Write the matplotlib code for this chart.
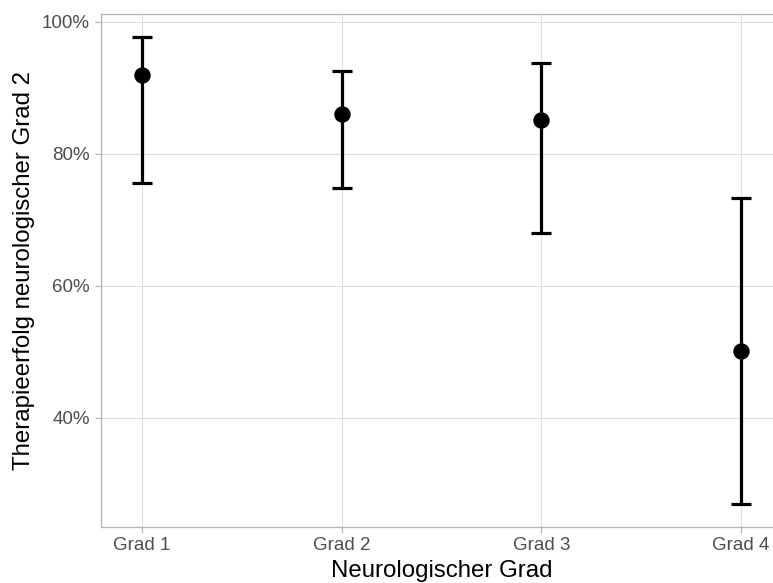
# ============================================================
# plot.py — Therapieerfolg nach neurologischem Grad
# ============================================================
# Point estimates with confidence intervals per grade,
# styled like a ggplot2 theme_light() panel.
# ============================================================

import matplotlib
matplotlib.use("Agg")
import matplotlib.pyplot as plt
from matplotlib.ticker import FuncFormatter

plt.rcParams["font.family"] = ["Liberation Sans", "DejaVu Sans"]

# ── Data (percent) ──────────────────────────────────────────
GRADES   = ["Grad 1", "Grad 2", "Grad 3", "Grad 4"]
ESTIMATE = [92.0, 86.0, 85.1, 50.1]
CI_LOW   = [75.6, 74.9, 68.0, 26.9]
CI_HIGH  = [97.7, 92.6, 93.8, 73.4]
Y_TICKS  = [40, 60, 80, 100]

# ── Styling ─────────────────────────────────────────────────
GRID_COLOR   = "#DEDEDE"
BORDER_COLOR = "#B3B3B3"
TICK_TEXT    = "#4D4D4D"

W, H = 773, 583
fig = plt.figure(figsize=(W / 100, H / 100), dpi=100)

# panel in pixel coordinates (right edge runs past the figure)
left, right, top, bottom = 101, 782, 14, 527
ax = fig.add_axes([left / W, (H - bottom) / H, (right - left) / W, (bottom - top) / H])

x = list(range(1, len(GRADES) + 1))
err_low  = [e - lo for e, lo in zip(ESTIMATE, CI_LOW)]
err_high = [hi - e for e, hi in zip(ESTIMATE, CI_HIGH)]

ax.errorbar(x, ESTIMATE, yerr=[err_low, err_high], fmt="o", color="black",
            ecolor="black", elinewidth=2.3, capsize=7.3, capthick=2.3,
            markersize=10.8, zorder=3)

ax.set_xlim(0.7947, 4.2053)
ax.set_ylim(23.48, 101.21)
ax.set_xticks(x)
ax.set_xticklabels(GRADES)
ax.set_yticks(Y_TICKS)
ax.yaxis.set_major_formatter(FuncFormatter(lambda v, _: f"{v:.0f}%"))

ax.grid(True, color=GRID_COLOR, linewidth=0.8, zorder=0)
ax.set_axisbelow(True)
for side in ax.spines.values():
    side.set_color(BORDER_COLOR)
    side.set_linewidth(0.9)

ax.tick_params(axis="both", colors=BORDER_COLOR, labelcolor=TICK_TEXT,
               labelsize=13.5, length=4, width=0.8)
ax.tick_params(axis="y", pad=4)
ax.tick_params(axis="x", pad=3)

# the reference crops the x title at the bottom; keep it just inside here
ax.set_xlabel("Neurologischer Grad", fontsize=17.3, color="black", labelpad=4.5)
ax.set_ylabel("Therapieerfolg neurologischer Grad 2", fontsize=17.3,
              color="black", labelpad=5)

fig.savefig("out.png", dpi=100)
